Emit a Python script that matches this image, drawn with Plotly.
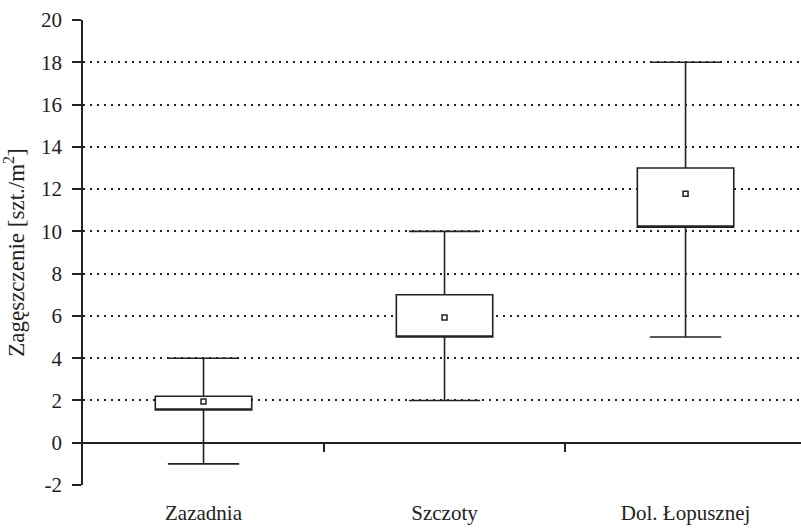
import plotly.graph_objects as go

# Density of individuals per site (szt./m²)
sites = ["Zazadnia", "Szczoty", "Dol. Łopusznej"]
whisker_low = [-1, 2, 5]
box_low = [1.55, 5, 10.2]
box_high = [2.2, 7, 13]
whisker_high = [4, 10, 18]
means = [1.95, 5.92, 11.78]

y_ticks = list(range(-2, 21, 2))
y_tick_text = [str(v) for v in y_ticks]

FONT = "Liberation Serif"
INK = "#222222"

fig = go.Figure()

fig.add_trace(go.Box(
    x=[0, 1, 2],
    q1=box_low,
    median=box_low,
    q3=box_high,
    lowerfence=whisker_low,
    upperfence=whisker_high,
    width=0.4,
    whiskerwidth=0.74,
    fillcolor="white",
    line=dict(color=INK, width=1.6),
    boxpoints=False,
    hoverinfo="skip",
    showlegend=False,
))

fig.add_trace(go.Scatter(
    x=[0, 1, 2],
    y=means,
    mode="markers",
    marker=dict(symbol="square", size=5, color="white",
                line=dict(color=INK, width=1.5)),
    showlegend=False,
    hoverinfo="skip",
))

# Axis carrying the separator ticks along the zero line
fig.add_trace(go.Scatter(x=[0], y=[0], xaxis="x2", mode="markers",
                         marker=dict(opacity=0), showlegend=False,
                         hoverinfo="skip"))

x_range = [-0.5, 2.479]
y_range = [-2, 20]

fig.update_layout(
    width=801,
    height=529,
    margin=dict(l=83, r=0, t=20, b=44),
    paper_bgcolor="white",
    plot_bgcolor="white",
    font=dict(family=FONT, size=20, color=INK),
    xaxis=dict(
        range=x_range,
        tickvals=[0, 1, 2],
        ticktext=sites,
        showgrid=False,
        zeroline=False,
        showline=False,
        ticks="",
        automargin=False,
        ticklabelstandoff=13,
        tickfont=dict(family=FONT, size=21, color=INK),
    ),
    xaxis2=dict(
        range=x_range,
        overlaying="x",
        anchor="free",
        position=(0 - y_range[0]) / (y_range[1] - y_range[0]),
        side="bottom",
        tickvals=[0.5, 1.5],
        ticks="outside",
        ticklen=8,
        tickwidth=1.5,
        tickcolor=INK,
        showticklabels=False,
        showgrid=False,
        zeroline=False,
        showline=False,
        automargin=False,
    ),
    yaxis=dict(
        range=y_range,
        tickvals=y_ticks,
        ticktext=y_tick_text,
        showgrid=True,
        gridcolor=INK,
        gridwidth=1.5,
        griddash="2px,5px",
        zeroline=True,
        zerolinecolor=INK,
        zerolinewidth=1.6,
        showline=True,
        linecolor=INK,
        linewidth=1.6,
        ticks="outside",
        ticklen=9,
        tickwidth=1.5,
        tickcolor=INK,
        ticklabelstandoff=6,
        tickfont=dict(family=FONT, size=21, color=INK),
        title=dict(text="Zagęszczenie [szt./m<sup>2</sup>]",
                   font=dict(family=FONT, size=23, color=INK),
                   standoff=12),
    ),
)

fig.write_html("out.html")
